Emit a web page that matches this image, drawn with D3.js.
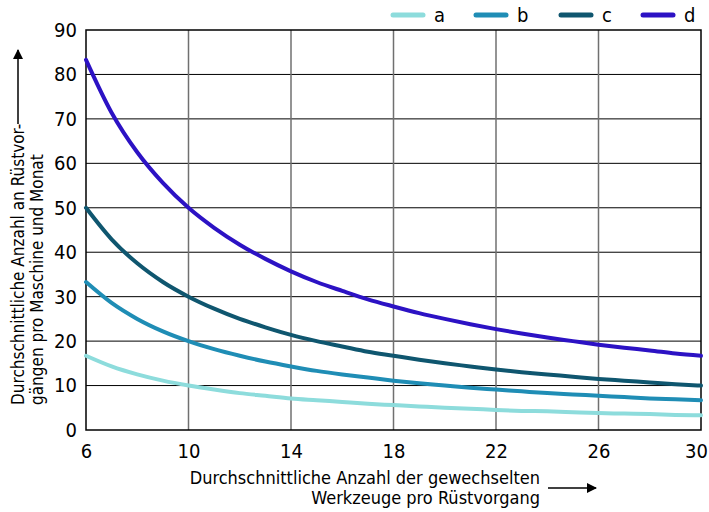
<!DOCTYPE html>
<html>
<head>
<meta charset="utf-8">
<script src="https://cdn.jsdelivr.net/npm/d3@7"></script>
<style>
  body { margin: 0; background: #fff; }
  text { font-family: "Liberation Sans Narrow", "DejaVu Sans Condensed", sans-serif; fill: #000; }
</style>
</head>
<body>
<div id="chart"></div>
<script>
// Data
const xValues = [6, 7, 8, 9, 10, 11, 12, 13, 14, 15, 16, 17, 18, 19, 20, 21, 22, 23, 24, 25, 26, 27, 28, 29, 30];
const seriesA = [16.7, 14.3, 12.5, 11.1, 10.0, 9.1, 8.3, 7.7, 7.1, 6.7, 6.3, 5.9, 5.6, 5.3, 5.0, 4.8, 4.5, 4.3, 4.2, 4.0, 3.8, 3.7, 3.6, 3.4, 3.3];
const seriesB = [33.3, 28.6, 25.0, 22.2, 20.0, 18.2, 16.7, 15.4, 14.3, 13.3, 12.5, 11.8, 11.1, 10.5, 10.0, 9.5, 9.1, 8.7, 8.3, 8.0, 7.7, 7.4, 7.1, 6.9, 6.7];
const seriesC = [50.0, 42.9, 37.5, 33.3, 30.0, 27.3, 25.0, 23.1, 21.4, 20.0, 18.8, 17.6, 16.7, 15.8, 15.0, 14.3, 13.6, 13.0, 12.5, 12.0, 11.5, 11.1, 10.7, 10.3, 10.0];
const seriesD = [83.3, 71.4, 62.5, 55.6, 50.0, 45.5, 41.7, 38.5, 35.7, 33.3, 31.3, 29.4, 27.8, 26.3, 25.0, 23.8, 22.7, 21.7, 20.8, 20.0, 19.2, 18.5, 17.9, 17.2, 16.7];
const seriesNames = ["a", "b", "c", "d"];
const seriesColors = ["#8ddcdc", "#1f8db5", "#0f566f", "#2c12c4"];
const xTicks = [6, 10, 14, 18, 22, 26, 30];
const yTicks = [0, 10, 20, 30, 40, 50, 60, 70, 80, 90];

const width = 709, height = 512;
const margin = { top: 30, right: 8, bottom: 82, left: 86 };
const innerW = width - margin.left - margin.right;
const innerH = height - margin.top - margin.bottom;

const svg = d3.select("#chart").append("svg")
    .attr("width", width)
    .attr("height", height);

// arrow marker for the axis titles
svg.append("defs").append("marker")
    .attr("id", "arrow")
    .attr("viewBox", "0 0 10 10")
    .attr("refX", 9).attr("refY", 5)
    .attr("markerWidth", 10).attr("markerHeight", 10)
    .attr("markerUnits", "userSpaceOnUse")
    .attr("orient", "auto")
    .append("path")
    .attr("d", "M0,0 L10,5 L0,10 Z")
    .attr("fill", "#000");

const g = svg.append("g")
    .attr("transform", `translate(${margin.left},${margin.top})`);

const x = d3.scaleLinear().domain([6, 30]).range([0, innerW]);
const y = d3.scaleLinear().domain([0, 90]).range([innerH, 0]);

// grid lines: horizontal black, vertical gray
g.append("g").selectAll("line")
    .data(yTicks.slice(1, -1))
    .join("line")
    .attr("x1", 0).attr("x2", innerW)
    .attr("y1", d => y(d)).attr("y2", d => y(d))
    .attr("stroke", "#000").attr("stroke-width", 1);

g.append("g").selectAll("line")
    .data(xTicks.slice(1, -1))
    .join("line")
    .attr("x1", d => x(d)).attr("x2", d => x(d))
    .attr("y1", 0).attr("y2", innerH)
    .attr("stroke", "#707070").attr("stroke-width", 1.5);

// frame
g.append("rect")
    .attr("width", innerW).attr("height", innerH)
    .attr("fill", "none").attr("stroke", "#000").attr("stroke-width", 1.5);

// axes (labels only)
const xAxis = g.append("g")
    .attr("transform", `translate(0,${innerH})`)
    .call(d3.axisBottom(x).tickValues(xTicks).tickSize(0).tickPadding(14));
xAxis.select(".domain").remove();
xAxis.selectAll("text").style("font-size", "20px");
xAxis.selectAll("text").filter(d => d === 30).attr("dx", -5);

const yAxis = g.append("g")
    .call(d3.axisLeft(y).tickValues(yTicks).tickSize(0).tickPadding(9));
yAxis.select(".domain").remove();
yAxis.selectAll("text").style("font-size", "20px");

// curves
const allSeries = [seriesA, seriesB, seriesC, seriesD];
const line = d3.line()
    .x((d, i) => x(xValues[i]))
    .y(d => y(d))
    .curve(d3.curveMonotoneX);

g.append("g").selectAll("path")
    .data(allSeries)
    .join("path")
    .attr("d", line)
    .attr("fill", "none")
    .attr("stroke", (d, i) => seriesColors[i])
    .attr("stroke-width", 4)
    .attr("stroke-linecap", "round");

// legend
const legendX = [393, 476, 561, 643];
const legend = svg.append("g").selectAll("g")
    .data(seriesNames)
    .join("g")
    .attr("transform", (d, i) => `translate(${legendX[i]},15)`);
legend.append("line")
    .attr("x1", 0).attr("x2", 30)
    .attr("stroke", (d, i) => seriesColors[i])
    .attr("stroke-width", 5)
    .attr("stroke-linecap", "round");
legend.append("text")
    .attr("x", 41).attr("y", 7)
    .style("font-size", "20px")
    .text(d => d);

// x axis title with arrow
const xTitle = svg.append("g");
xTitle.append("text")
    .attr("x", 540).attr("y", 484)
    .attr("text-anchor", "end")
    .style("font-size", "18px")
    .text("Durchschnittliche Anzahl der gewechselten");
xTitle.append("text")
    .attr("x", 540).attr("y", 504)
    .attr("text-anchor", "end")
    .style("font-size", "18px")
    .text("Werkzeuge pro Rüstvorgang");
xTitle.append("line")
    .attr("x1", 548).attr("x2", 596)
    .attr("y1", 488).attr("y2", 488)
    .attr("stroke", "#000").attr("stroke-width", 1.5)
    .attr("marker-end", "url(#arrow)");

// y axis title with arrow
const yTitle = svg.append("g");
yTitle.append("text")
    .attr("transform", "translate(24,405) rotate(-90)")
    .style("font-size", "17px")
    .text("Durchschnittliche Anzahl an Rüstvor-");
yTitle.append("text")
    .attr("transform", "translate(43,405) rotate(-90)")
    .style("font-size", "17px")
    .text("gängen pro Maschine und Monat");
yTitle.append("line")
    .attr("x1", 18).attr("x2", 18)
    .attr("y1", 124).attr("y2", 50)
    .attr("stroke", "#000").attr("stroke-width", 1.5)
    .attr("marker-end", "url(#arrow)");
</script>
</body>
</html>
